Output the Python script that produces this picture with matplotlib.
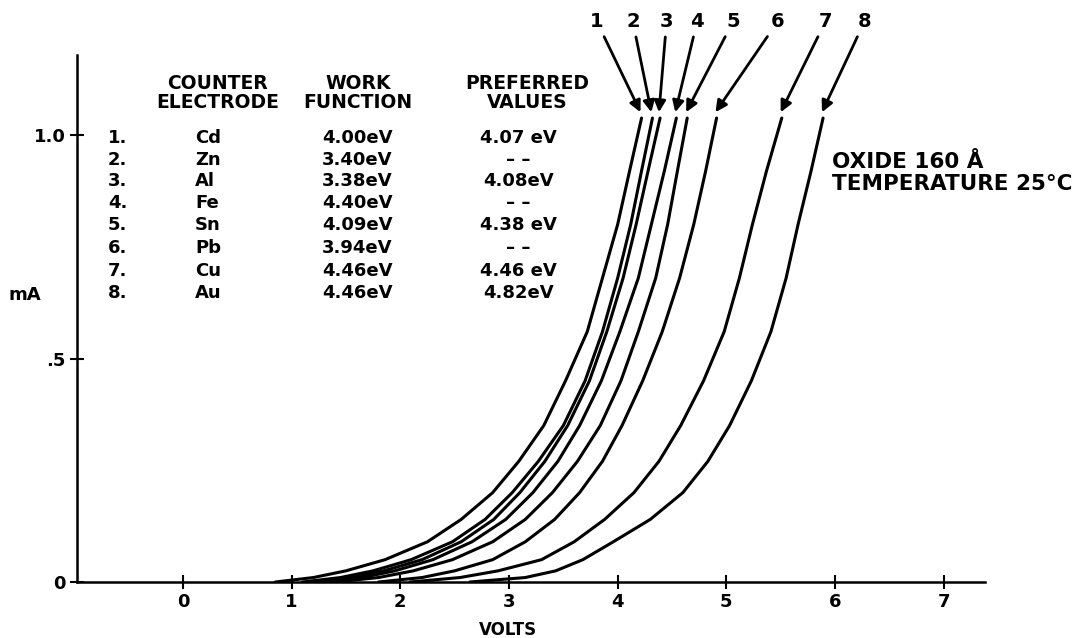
import matplotlib
matplotlib.use("Agg")
import matplotlib.pyplot as plt

# current levels (mA), shared by all curves
current_mA = [0.0, 0.01, 0.025, 0.05, 0.09, 0.14, 0.2, 0.27, 0.35, 0.45,
              0.56, 0.68, 0.8, 0.92, 1.038]

# voltage of each curve at those current levels
volts_cd = [0.85, 1.20, 1.50, 1.86, 2.25, 2.56, 2.85, 3.09, 3.32, 3.52, 3.72, 3.86, 4.00, 4.11, 4.22]
volts_zn = [1.10, 1.45, 1.75, 2.10, 2.48, 2.78, 3.03, 3.27, 3.50, 3.70, 3.86, 4.00, 4.12, 4.22, 4.32]
volts_al = [1.20, 1.55, 1.85, 2.20, 2.56, 2.86, 3.10, 3.33, 3.54, 3.74, 3.90, 4.05, 4.17, 4.28, 4.39]
volts_fe = [1.30, 1.65, 1.95, 2.30, 2.66, 2.97, 3.22, 3.45, 3.65, 3.85, 4.02, 4.19, 4.31, 4.43, 4.54]
volts_sn = [1.40, 1.80, 2.12, 2.48, 2.85, 3.15, 3.40, 3.63, 3.84, 4.03, 4.19, 4.35, 4.46, 4.55, 4.64]
volts_pb = [1.80, 2.20, 2.50, 2.85, 3.15, 3.42, 3.65, 3.86, 4.04, 4.23, 4.41, 4.57, 4.70, 4.81, 4.91]
volts_cu = [2.09, 2.55, 2.90, 3.30, 3.60, 3.88, 4.15, 4.38, 4.58, 4.79, 4.98, 5.12, 5.24, 5.37, 5.51]
volts_au = [2.64, 3.15, 3.43, 3.68, 3.96, 4.30, 4.60, 4.83, 5.03, 5.23, 5.41, 5.55, 5.66, 5.78, 5.89]
curves = [volts_cd, volts_zn, volts_al, volts_fe, volts_sn, volts_pb, volts_cu, volts_au]

# table
numbers = ["1.", "2.", "3.", "4.", "5.", "6.", "7.", "8."]
electrodes = ["Cd", "Zn", "Al", "Fe", "Sn", "Pb", "Cu", "Au"]
work_function = ["4.00eV", "3.40eV", "3.38eV", "4.40eV", "4.09eV", "3.94eV", "4.46eV", "4.46eV"]
preferred = ["4.07 eV", "– –", "4.08eV", "– –", "4.38 eV", "– –", "4.46 eV", "4.82eV"]

x_ticks = [0, 1, 2, 3, 4, 5, 6, 7]
y_ticks = [0, 0.5, 1.0]
y_ticklabels = ["0", ".5", "1.0"]

# x of the arrow labels 1..8 at the top
label_x = [3.81, 4.14, 4.45, 4.73, 5.06, 5.47, 5.91, 6.27]

W, H = 1075, 638


def px(x, y):
    return x / W, 1 - y / H


fig = plt.figure(figsize=(W / 100, H / 100), dpi=100)
ax = fig.add_axes([77 / W, 1 - 582 / H, (985 - 77) / W, (582 - 55) / H])
ax.set_xlim(-0.975, 7.38)
ax.set_ylim(0, 1.179)

for v in curves:
    ax.plot(v, current_mA, color="black", lw=2.2, solid_capstyle="round",
            solid_joinstyle="round")

for i, v in enumerate(curves):
    ax.annotate(str(i + 1), xy=(v[-1] - 0.01, current_mA[-1] + 0.013),
                xytext=(label_x[i], 1.253), textcoords="data",
                ha="center", va="center", fontsize=14, fontweight="bold",
                annotation_clip=False,
                arrowprops=dict(arrowstyle="-|>", color="black", lw=2,
                                mutation_scale=17, shrinkA=2, shrinkB=0))

for s in ["top", "right"]:
    ax.spines[s].set_visible(False)
for s in ["left", "bottom"]:
    ax.spines[s].set_linewidth(1.8)

ax.set_xticks(x_ticks)
ax.set_yticks(y_ticks)
ax.set_yticklabels(y_ticklabels)
ax.tick_params(direction="inout", length=10, width=1.5, pad=3,
               labelsize=13)
for lab in ax.get_xticklabels() + ax.get_yticklabels():
    lab.set_fontweight("bold")

fig.text(*px(25, 295), "mA", ha="center", va="center", fontsize=13, fontweight="bold")
fig.text(*px(508, 630), "VOLTS", ha="center", va="center", fontsize=12, fontweight="bold")

# table headers
for cx, head in [(218, "COUNTER\nELECTRODE"), (358, "WORK\nFUNCTION"),
                 (527, "PREFERRED\nVALUES")]:
    fig.text(*px(cx, 93), head, ha="center", va="center",
             fontsize=13.5, fontweight="bold", linespacing=0.95)

row_y = [138, 160, 181, 203, 225, 248, 271, 293]
for i in range(8):
    fig.text(*px(108, row_y[i]), numbers[i], ha="left", va="center", fontsize=13, fontweight="bold")
    fig.text(*px(195, row_y[i]), electrodes[i], ha="left", va="center", fontsize=13, fontweight="bold")
    fig.text(*px(357, row_y[i]), work_function[i], ha="center", va="center", fontsize=13, fontweight="bold")
    fig.text(*px(518, row_y[i]), preferred[i], ha="center", va="center", fontsize=13, fontweight="bold")

fig.text(*px(832, 162), "OXIDE 160 Å", ha="left", va="center", fontsize=15.5, fontweight="bold")
fig.text(*px(832, 184), "TEMPERATURE 25°C", ha="left", va="center", fontsize=15.5, fontweight="bold")

fig.savefig("out.png", dpi=100)
